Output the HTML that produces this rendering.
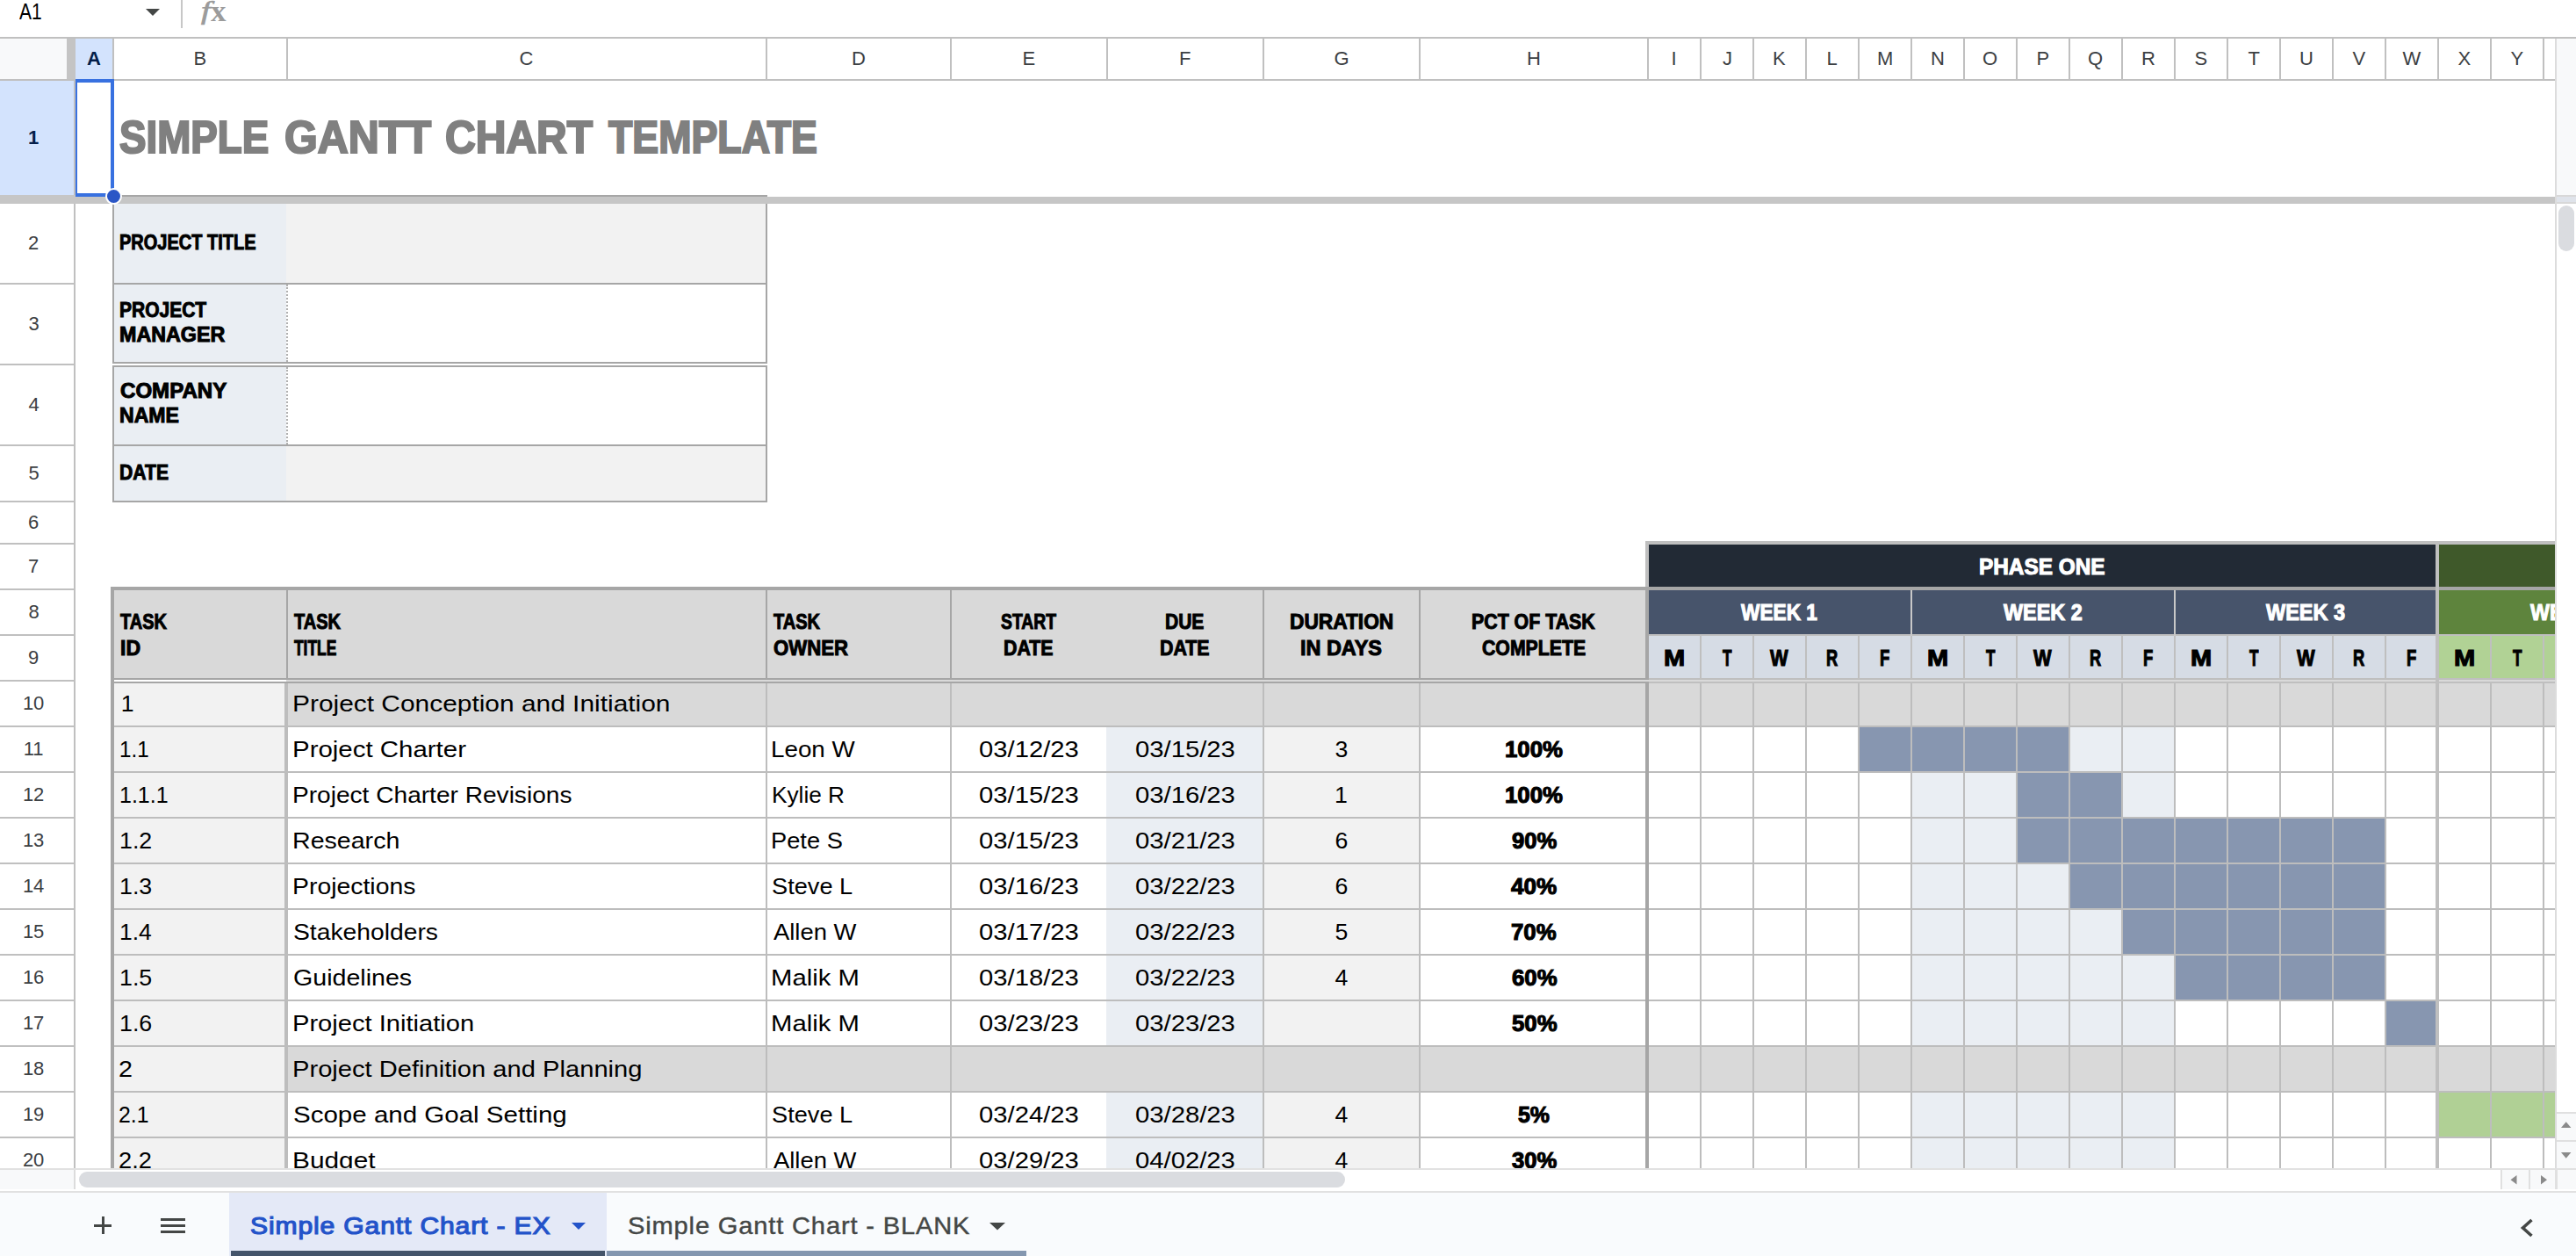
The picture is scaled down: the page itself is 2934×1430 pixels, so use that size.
<!DOCTYPE html><html><head><meta charset='utf-8'><title>Simple Gantt Chart Template</title><style>
html,body{margin:0;padding:0;background:#fff}body{width:2934px;height:1430px;position:relative;overflow:hidden;font-family:'Liberation Sans',sans-serif}
.r{position:absolute}.t{position:absolute;white-space:pre;line-height:1;transform-origin:0 0}
</style></head><body>
<div class='r' style='left:0px;top:0px;width:2934px;height:42px;background:#fff;'></div>
<div class='r' style='left:0px;top:42px;width:2934px;height:2px;background:#c0c0c0;'></div>
<div class='r' style='left:206px;top:0px;width:2px;height:32px;background:#c7c7c7;'></div>
<div class='r' style='left:0px;top:44px;width:76px;height:46px;background:#f8f9fa;'></div>
<div class='r' style='left:76px;top:44px;width:10px;height:46px;background:#c4c4c4;'></div>
<div class='r' style='left:86px;top:44px;width:42px;height:46px;background:#d3e3fd;'></div>
<div class='r' style='left:0px;top:90px;width:2910px;height:2px;background:#c0c0c0;'></div>
<div class='r' style='left:128px;top:44px;width:2px;height:46px;background:#c0c0c0;'></div>
<div class='r' style='left:326px;top:44px;width:2px;height:46px;background:#c0c0c0;'></div>
<div class='r' style='left:872px;top:44px;width:2px;height:46px;background:#c0c0c0;'></div>
<div class='r' style='left:1082px;top:44px;width:2px;height:46px;background:#c0c0c0;'></div>
<div class='r' style='left:1260px;top:44px;width:2px;height:46px;background:#c0c0c0;'></div>
<div class='r' style='left:1438px;top:44px;width:2px;height:46px;background:#c0c0c0;'></div>
<div class='r' style='left:1616px;top:44px;width:2px;height:46px;background:#c0c0c0;'></div>
<div class='r' style='left:1876px;top:44px;width:2px;height:46px;background:#c0c0c0;'></div>
<div class='r' style='left:1936px;top:44px;width:2px;height:46px;background:#c0c0c0;'></div>
<div class='r' style='left:1996px;top:44px;width:2px;height:46px;background:#c0c0c0;'></div>
<div class='r' style='left:2056px;top:44px;width:2px;height:46px;background:#c0c0c0;'></div>
<div class='r' style='left:2116px;top:44px;width:2px;height:46px;background:#c0c0c0;'></div>
<div class='r' style='left:2176px;top:44px;width:2px;height:46px;background:#c0c0c0;'></div>
<div class='r' style='left:2236px;top:44px;width:2px;height:46px;background:#c0c0c0;'></div>
<div class='r' style='left:2296px;top:44px;width:2px;height:46px;background:#c0c0c0;'></div>
<div class='r' style='left:2356px;top:44px;width:2px;height:46px;background:#c0c0c0;'></div>
<div class='r' style='left:2416px;top:44px;width:2px;height:46px;background:#c0c0c0;'></div>
<div class='r' style='left:2476px;top:44px;width:2px;height:46px;background:#c0c0c0;'></div>
<div class='r' style='left:2536px;top:44px;width:2px;height:46px;background:#c0c0c0;'></div>
<div class='r' style='left:2596px;top:44px;width:2px;height:46px;background:#c0c0c0;'></div>
<div class='r' style='left:2656px;top:44px;width:2px;height:46px;background:#c0c0c0;'></div>
<div class='r' style='left:2716px;top:44px;width:2px;height:46px;background:#c0c0c0;'></div>
<div class='r' style='left:2776px;top:44px;width:2px;height:46px;background:#c0c0c0;'></div>
<div class='r' style='left:2836px;top:44px;width:2px;height:46px;background:#c0c0c0;'></div>
<div class='r' style='left:2896px;top:44px;width:2px;height:46px;background:#c0c0c0;'></div>
<div class='r' style='left:0px;top:92px;width:84px;height:130px;background:#d3e3fd;'></div>
<div class='r' style='left:84px;top:92px;width:2px;height:1238px;background:#c0c0c0;'></div>
<div class='r' style='left:0px;top:322px;width:84px;height:2px;background:#c0c0c0;'></div>
<div class='r' style='left:0px;top:414px;width:84px;height:2px;background:#c0c0c0;'></div>
<div class='r' style='left:0px;top:506px;width:84px;height:2px;background:#c0c0c0;'></div>
<div class='r' style='left:0px;top:570px;width:84px;height:2px;background:#c0c0c0;'></div>
<div class='r' style='left:0px;top:618px;width:84px;height:2px;background:#c0c0c0;'></div>
<div class='r' style='left:0px;top:670px;width:84px;height:2px;background:#c0c0c0;'></div>
<div class='r' style='left:0px;top:722px;width:84px;height:2px;background:#c0c0c0;'></div>
<div class='r' style='left:0px;top:774px;width:84px;height:2px;background:#c0c0c0;'></div>
<div class='r' style='left:0px;top:826px;width:84px;height:2px;background:#c0c0c0;'></div>
<div class='r' style='left:0px;top:878px;width:84px;height:2px;background:#c0c0c0;'></div>
<div class='r' style='left:0px;top:930px;width:84px;height:2px;background:#c0c0c0;'></div>
<div class='r' style='left:0px;top:982px;width:84px;height:2px;background:#c0c0c0;'></div>
<div class='r' style='left:0px;top:1034px;width:84px;height:2px;background:#c0c0c0;'></div>
<div class='r' style='left:0px;top:1086px;width:84px;height:2px;background:#c0c0c0;'></div>
<div class='r' style='left:0px;top:1138px;width:84px;height:2px;background:#c0c0c0;'></div>
<div class='r' style='left:0px;top:1190px;width:84px;height:2px;background:#c0c0c0;'></div>
<div class='r' style='left:0px;top:1242px;width:84px;height:2px;background:#c0c0c0;'></div>
<div class='r' style='left:0px;top:1294px;width:84px;height:2px;background:#c0c0c0;'></div>
<div class='r' style='left:130px;top:232px;width:196px;height:90px;background:#eaeef3;'></div>
<div class='r' style='left:326px;top:232px;width:546px;height:90px;background:#f2f2f2;'></div>
<div class='r' style='left:130px;top:324px;width:196px;height:88px;background:#eaeef3;'></div>
<div class='r' style='left:130px;top:418px;width:196px;height:88px;background:#eaeef3;'></div>
<div class='r' style='left:130px;top:508px;width:196px;height:62px;background:#eaeef3;'></div>
<div class='r' style='left:326px;top:508px;width:546px;height:62px;background:#f2f2f2;'></div>
<div class='r' style='left:128px;top:222px;width:746px;height:2px;background:#a6a6a6;'></div>
<div class='r' style='left:128px;top:222px;width:2px;height:350px;background:#a6a6a6;'></div>
<div class='r' style='left:872px;top:222px;width:2px;height:350px;background:#a6a6a6;'></div>
<div class='r' style='left:128px;top:322px;width:746px;height:2px;background:#a6a6a6;'></div>
<div class='r' style='left:128px;top:412px;width:746px;height:2px;background:#a6a6a6;'></div>
<div class='r' style='left:128px;top:414px;width:746px;height:2px;background:#fff;'></div>
<div class='r' style='left:128px;top:416px;width:746px;height:2px;background:#a6a6a6;'></div>
<div class='r' style='left:128px;top:506px;width:746px;height:2px;background:#a6a6a6;'></div>
<div class='r' style='left:128px;top:570px;width:746px;height:2px;background:#a6a6a6;'></div>
<div class='r' style='left:0px;top:222px;width:86px;height:10px;background:#c6c6c6;'></div>
<div class='r' style='left:86px;top:224px;width:2824px;height:8px;background:#c6c6c6;'></div>
<div class='r' style='left:130px;top:672px;width:1746px;height:100px;background:#d9d9d9;'></div>
<div class='r' style='left:1878px;top:620px;width:896px;height:48px;background:#222a35;'></div>
<div class='r' style='left:2778px;top:620px;width:132px;height:48px;background:#3f592a;'></div>
<div class='r' style='left:1878px;top:672px;width:896px;height:50px;background:#47546b;'></div>
<div class='r' style='left:2778px;top:672px;width:132px;height:50px;background:#5e843d;'></div>
<div class='r' style='left:1878px;top:724px;width:896px;height:48px;background:#d6dce5;'></div>
<div class='r' style='left:2778px;top:724px;width:132px;height:48px;background:#b1d295;'></div>
<div class='r' style='left:1874px;top:616px;width:1036px;height:4px;background:#bfbfbf;'></div>
<div class='r' style='left:1874px;top:616px;width:4px;height:52px;background:#bfbfbf;'></div>
<div class='r' style='left:2774px;top:616px;width:4px;height:714px;background:#bfbfbf;'></div>
<div class='r' style='left:1874px;top:668px;width:1036px;height:4px;background:#a6a6a6;'></div>
<div class='r' style='left:1878px;top:722px;width:1032px;height:2px;background:#bfbfbf;'></div>
<div class='r' style='left:2176px;top:672px;width:2px;height:52px;background:#c8c8c8;'></div>
<div class='r' style='left:2476px;top:672px;width:2px;height:52px;background:#c8c8c8;'></div>
<div class='r' style='left:1936px;top:724px;width:2px;height:48px;background:#bfbfbf;'></div>
<div class='r' style='left:1996px;top:724px;width:2px;height:48px;background:#bfbfbf;'></div>
<div class='r' style='left:2056px;top:724px;width:2px;height:48px;background:#bfbfbf;'></div>
<div class='r' style='left:2116px;top:724px;width:2px;height:48px;background:#bfbfbf;'></div>
<div class='r' style='left:2176px;top:724px;width:2px;height:48px;background:#bfbfbf;'></div>
<div class='r' style='left:2236px;top:724px;width:2px;height:48px;background:#bfbfbf;'></div>
<div class='r' style='left:2296px;top:724px;width:2px;height:48px;background:#bfbfbf;'></div>
<div class='r' style='left:2356px;top:724px;width:2px;height:48px;background:#bfbfbf;'></div>
<div class='r' style='left:2416px;top:724px;width:2px;height:48px;background:#bfbfbf;'></div>
<div class='r' style='left:2476px;top:724px;width:2px;height:48px;background:#bfbfbf;'></div>
<div class='r' style='left:2536px;top:724px;width:2px;height:48px;background:#bfbfbf;'></div>
<div class='r' style='left:2596px;top:724px;width:2px;height:48px;background:#bfbfbf;'></div>
<div class='r' style='left:2656px;top:724px;width:2px;height:48px;background:#bfbfbf;'></div>
<div class='r' style='left:2716px;top:724px;width:2px;height:48px;background:#bfbfbf;'></div>
<div class='r' style='left:2836px;top:724px;width:2px;height:48px;background:#bfbfbf;'></div>
<div class='r' style='left:2896px;top:724px;width:2px;height:48px;background:#bfbfbf;'></div>
<div class='r' style='left:130px;top:776px;width:196px;height:50px;background:#f2f2f2;'></div>
<div class='r' style='left:326px;top:776px;width:2584px;height:50px;background:#d9d9d9;'></div>
<div class='r' style='left:130px;top:828px;width:196px;height:50px;background:#f2f2f2;'></div>
<div class='r' style='left:1260px;top:828px;width:178px;height:50px;background:#eaeef3;'></div>
<div class='r' style='left:1440px;top:828px;width:176px;height:50px;background:#f2f2f2;'></div>
<div class='r' style='left:2176px;top:828px;width:300px;height:50px;background:#eaeef3;'></div>
<div class='r' style='left:2116px;top:828px;width:60px;height:50px;background:#8796b0;'></div>
<div class='r' style='left:2176px;top:828px;width:60px;height:50px;background:#8796b0;'></div>
<div class='r' style='left:2236px;top:828px;width:60px;height:50px;background:#8796b0;'></div>
<div class='r' style='left:2296px;top:828px;width:60px;height:50px;background:#8796b0;'></div>
<div class='r' style='left:130px;top:880px;width:196px;height:50px;background:#f2f2f2;'></div>
<div class='r' style='left:1260px;top:880px;width:178px;height:50px;background:#eaeef3;'></div>
<div class='r' style='left:1440px;top:880px;width:176px;height:50px;background:#f2f2f2;'></div>
<div class='r' style='left:2176px;top:880px;width:300px;height:50px;background:#eaeef3;'></div>
<div class='r' style='left:2296px;top:880px;width:60px;height:50px;background:#8796b0;'></div>
<div class='r' style='left:2356px;top:880px;width:60px;height:50px;background:#8796b0;'></div>
<div class='r' style='left:130px;top:932px;width:196px;height:50px;background:#f2f2f2;'></div>
<div class='r' style='left:1260px;top:932px;width:178px;height:50px;background:#eaeef3;'></div>
<div class='r' style='left:1440px;top:932px;width:176px;height:50px;background:#f2f2f2;'></div>
<div class='r' style='left:2176px;top:932px;width:300px;height:50px;background:#eaeef3;'></div>
<div class='r' style='left:2296px;top:932px;width:60px;height:50px;background:#8796b0;'></div>
<div class='r' style='left:2356px;top:932px;width:60px;height:50px;background:#8796b0;'></div>
<div class='r' style='left:2416px;top:932px;width:60px;height:50px;background:#8796b0;'></div>
<div class='r' style='left:2476px;top:932px;width:60px;height:50px;background:#8796b0;'></div>
<div class='r' style='left:2536px;top:932px;width:60px;height:50px;background:#8796b0;'></div>
<div class='r' style='left:2596px;top:932px;width:60px;height:50px;background:#8796b0;'></div>
<div class='r' style='left:2656px;top:932px;width:60px;height:50px;background:#8796b0;'></div>
<div class='r' style='left:130px;top:984px;width:196px;height:50px;background:#f2f2f2;'></div>
<div class='r' style='left:1260px;top:984px;width:178px;height:50px;background:#eaeef3;'></div>
<div class='r' style='left:1440px;top:984px;width:176px;height:50px;background:#f2f2f2;'></div>
<div class='r' style='left:2176px;top:984px;width:300px;height:50px;background:#eaeef3;'></div>
<div class='r' style='left:2356px;top:984px;width:60px;height:50px;background:#8796b0;'></div>
<div class='r' style='left:2416px;top:984px;width:60px;height:50px;background:#8796b0;'></div>
<div class='r' style='left:2476px;top:984px;width:60px;height:50px;background:#8796b0;'></div>
<div class='r' style='left:2536px;top:984px;width:60px;height:50px;background:#8796b0;'></div>
<div class='r' style='left:2596px;top:984px;width:60px;height:50px;background:#8796b0;'></div>
<div class='r' style='left:2656px;top:984px;width:60px;height:50px;background:#8796b0;'></div>
<div class='r' style='left:130px;top:1036px;width:196px;height:50px;background:#f2f2f2;'></div>
<div class='r' style='left:1260px;top:1036px;width:178px;height:50px;background:#eaeef3;'></div>
<div class='r' style='left:1440px;top:1036px;width:176px;height:50px;background:#f2f2f2;'></div>
<div class='r' style='left:2176px;top:1036px;width:300px;height:50px;background:#eaeef3;'></div>
<div class='r' style='left:2416px;top:1036px;width:60px;height:50px;background:#8796b0;'></div>
<div class='r' style='left:2476px;top:1036px;width:60px;height:50px;background:#8796b0;'></div>
<div class='r' style='left:2536px;top:1036px;width:60px;height:50px;background:#8796b0;'></div>
<div class='r' style='left:2596px;top:1036px;width:60px;height:50px;background:#8796b0;'></div>
<div class='r' style='left:2656px;top:1036px;width:60px;height:50px;background:#8796b0;'></div>
<div class='r' style='left:130px;top:1088px;width:196px;height:50px;background:#f2f2f2;'></div>
<div class='r' style='left:1260px;top:1088px;width:178px;height:50px;background:#eaeef3;'></div>
<div class='r' style='left:1440px;top:1088px;width:176px;height:50px;background:#f2f2f2;'></div>
<div class='r' style='left:2176px;top:1088px;width:300px;height:50px;background:#eaeef3;'></div>
<div class='r' style='left:2476px;top:1088px;width:60px;height:50px;background:#8796b0;'></div>
<div class='r' style='left:2536px;top:1088px;width:60px;height:50px;background:#8796b0;'></div>
<div class='r' style='left:2596px;top:1088px;width:60px;height:50px;background:#8796b0;'></div>
<div class='r' style='left:2656px;top:1088px;width:60px;height:50px;background:#8796b0;'></div>
<div class='r' style='left:130px;top:1140px;width:196px;height:50px;background:#f2f2f2;'></div>
<div class='r' style='left:1260px;top:1140px;width:178px;height:50px;background:#eaeef3;'></div>
<div class='r' style='left:1440px;top:1140px;width:176px;height:50px;background:#f2f2f2;'></div>
<div class='r' style='left:2176px;top:1140px;width:300px;height:50px;background:#eaeef3;'></div>
<div class='r' style='left:2716px;top:1140px;width:60px;height:50px;background:#8796b0;'></div>
<div class='r' style='left:130px;top:1192px;width:196px;height:50px;background:#f2f2f2;'></div>
<div class='r' style='left:326px;top:1192px;width:2584px;height:50px;background:#d9d9d9;'></div>
<div class='r' style='left:130px;top:1244px;width:196px;height:50px;background:#f2f2f2;'></div>
<div class='r' style='left:1260px;top:1244px;width:178px;height:50px;background:#eaeef3;'></div>
<div class='r' style='left:1440px;top:1244px;width:176px;height:50px;background:#f2f2f2;'></div>
<div class='r' style='left:2176px;top:1244px;width:300px;height:50px;background:#eaeef3;'></div>
<div class='r' style='left:2776px;top:1244px;width:60px;height:50px;background:#b0d095;'></div>
<div class='r' style='left:2836px;top:1244px;width:60px;height:50px;background:#b0d095;'></div>
<div class='r' style='left:2896px;top:1244px;width:14px;height:50px;background:#b0d095;'></div>
<div class='r' style='left:130px;top:1296px;width:196px;height:34px;background:#f2f2f2;'></div>
<div class='r' style='left:1260px;top:1296px;width:178px;height:34px;background:#eaeef3;'></div>
<div class='r' style='left:1440px;top:1296px;width:176px;height:34px;background:#f2f2f2;'></div>
<div class='r' style='left:2176px;top:1296px;width:300px;height:34px;background:#eaeef3;'></div>
<div class='r' style='left:126px;top:826px;width:2784px;height:2px;background:#bdbdbd;'></div>
<div class='r' style='left:126px;top:878px;width:2784px;height:2px;background:#bdbdbd;'></div>
<div class='r' style='left:126px;top:930px;width:2784px;height:2px;background:#bdbdbd;'></div>
<div class='r' style='left:126px;top:982px;width:2784px;height:2px;background:#bdbdbd;'></div>
<div class='r' style='left:126px;top:1034px;width:2784px;height:2px;background:#bdbdbd;'></div>
<div class='r' style='left:126px;top:1086px;width:2784px;height:2px;background:#bdbdbd;'></div>
<div class='r' style='left:126px;top:1138px;width:2784px;height:2px;background:#bdbdbd;'></div>
<div class='r' style='left:126px;top:1190px;width:2784px;height:2px;background:#bdbdbd;'></div>
<div class='r' style='left:126px;top:1242px;width:2784px;height:2px;background:#bdbdbd;'></div>
<div class='r' style='left:126px;top:1294px;width:2784px;height:2px;background:#bdbdbd;'></div>
<div class='r' style='left:324px;top:778px;width:4px;height:552px;background:#bdbdbd;'></div>
<div class='r' style='left:872px;top:778px;width:2px;height:552px;background:#bdbdbd;'></div>
<div class='r' style='left:1082px;top:778px;width:2px;height:552px;background:#bdbdbd;'></div>
<div class='r' style='left:1438px;top:778px;width:2px;height:552px;background:#bdbdbd;'></div>
<div class='r' style='left:1616px;top:778px;width:2px;height:552px;background:#bdbdbd;'></div>
<div class='r' style='left:1936px;top:778px;width:2px;height:552px;background:#bdbdbd;'></div>
<div class='r' style='left:1996px;top:778px;width:2px;height:552px;background:#bdbdbd;'></div>
<div class='r' style='left:2056px;top:778px;width:2px;height:552px;background:#bdbdbd;'></div>
<div class='r' style='left:2116px;top:778px;width:2px;height:552px;background:#bdbdbd;'></div>
<div class='r' style='left:2176px;top:778px;width:2px;height:552px;background:#bdbdbd;'></div>
<div class='r' style='left:2236px;top:778px;width:2px;height:552px;background:#bdbdbd;'></div>
<div class='r' style='left:2296px;top:778px;width:2px;height:552px;background:#bdbdbd;'></div>
<div class='r' style='left:2356px;top:778px;width:2px;height:552px;background:#bdbdbd;'></div>
<div class='r' style='left:2416px;top:778px;width:2px;height:552px;background:#bdbdbd;'></div>
<div class='r' style='left:2476px;top:778px;width:2px;height:552px;background:#bdbdbd;'></div>
<div class='r' style='left:2536px;top:778px;width:2px;height:552px;background:#bdbdbd;'></div>
<div class='r' style='left:2596px;top:778px;width:2px;height:552px;background:#bdbdbd;'></div>
<div class='r' style='left:2656px;top:778px;width:2px;height:552px;background:#bdbdbd;'></div>
<div class='r' style='left:2716px;top:778px;width:2px;height:552px;background:#bdbdbd;'></div>
<div class='r' style='left:2836px;top:778px;width:2px;height:552px;background:#bdbdbd;'></div>
<div class='r' style='left:2896px;top:778px;width:2px;height:552px;background:#bdbdbd;'></div>
<div class='r' style='left:326px;top:672px;width:2px;height:100px;background:#a6a6a6;'></div>
<div class='r' style='left:872px;top:672px;width:2px;height:100px;background:#a6a6a6;'></div>
<div class='r' style='left:1082px;top:672px;width:2px;height:100px;background:#a6a6a6;'></div>
<div class='r' style='left:1438px;top:672px;width:2px;height:100px;background:#a6a6a6;'></div>
<div class='r' style='left:1616px;top:672px;width:2px;height:100px;background:#a6a6a6;'></div>
<div class='r' style='left:126px;top:668px;width:1752px;height:4px;background:#a6a6a6;'></div>
<div class='r' style='left:126px;top:668px;width:4px;height:662px;background:#a6a6a6;'></div>
<div class='r' style='left:1874px;top:668px;width:4px;height:662px;background:#a6a6a6;'></div>
<div class='r' style='left:126px;top:772px;width:1752px;height:2px;background:#a6a6a6;'></div>
<div class='r' style='left:1878px;top:772px;width:1032px;height:2px;background:#bfbfbf;'></div>
<div class='r' style='left:130px;top:774px;width:196px;height:2px;background:#fff;'></div>
<div class='r' style='left:326px;top:774px;width:2584px;height:2px;background:#d9d9d9;'></div>
<div class='r' style='left:126px;top:776px;width:1752px;height:2px;background:#a6a6a6;'></div>
<div class='r' style='left:1878px;top:776px;width:1032px;height:2px;background:#bfbfbf;'></div>
<div class='r' style='left:2774px;top:616px;width:4px;height:714px;background:#bfbfbf;'></div>
<div class='r' style='left:2910px;top:44px;width:2px;height:1286px;background:#dcdcdc;'></div>
<div class='r' style='left:2912px;top:44px;width:22px;height:178px;background:#f8f9fa;'></div>
<div class='r' style='left:2912px;top:222px;width:22px;height:2px;background:#d8d8d8;'></div>
<div class='r' style='left:2912px;top:224px;width:22px;height:6px;background:#dfe3ea;'></div>
<div class='r' style='left:2912px;top:230px;width:22px;height:2px;background:#d8d8d8;'></div>
<div class='r' style='left:2912px;top:1266px;width:22px;height:2px;background:#e0e0e0;'></div>
<div class='r' style='left:2912px;top:1268px;width:22px;height:30px;background:#f8f9fa;'></div>
<div class='r' style='left:2912px;top:1298px;width:22px;height:2px;background:#e0e0e0;'></div>
<div class='r' style='left:2912px;top:1300px;width:22px;height:30px;background:#f8f9fa;'></div>
<div class='r' style='left:0px;top:1330px;width:2934px;height:2px;background:#e1e1e1;'></div>
<div class='r' style='left:0px;top:1332px;width:2934px;height:24px;background:#fff;'></div>
<div class='r' style='left:0px;top:1332px;width:84px;height:22px;background:#f8f9fa;'></div>
<div class='r' style='left:84px;top:1332px;width:2px;height:22px;background:#dcdcdc;'></div>
<div class='r' style='left:2848px;top:1332px;width:2px;height:22px;background:#e0e0e0;'></div>
<div class='r' style='left:2850px;top:1332px;width:30px;height:22px;background:#f8f9fa;'></div>
<div class='r' style='left:2880px;top:1332px;width:2px;height:22px;background:#e0e0e0;'></div>
<div class='r' style='left:2882px;top:1332px;width:28px;height:22px;background:#f8f9fa;'></div>
<div class='r' style='left:2910px;top:1332px;width:3px;height:22px;background:#e0e0e0;'></div>
<div class='r' style='left:2913px;top:1332px;width:21px;height:22px;background:#f8f9fa;'></div>
<div class='r' style='left:0px;top:1356px;width:2934px;height:2px;background:#e1e1e1;'></div>
<div class='r' style='left:0px;top:1358px;width:2934px;height:72px;background:#f9fbfd;'></div>
<div class='r' style='left:261px;top:1358px;width:430px;height:72px;background:#e4e9f7;'></div>
<div class='r' style='left:263px;top:1424px;width:426px;height:6px;background:#44546a;'></div>
<div class='r' style='left:691px;top:1424px;width:478px;height:6px;background:#8497b0;'></div>
<div class='r' style='left:107px;top:1393.8px;width:20px;height:3px;background:#444746;'></div>
<div class='r' style='left:115.5px;top:1385.3px;width:3px;height:20px;background:#444746;'></div>
<div class='r' style='left:183px;top:1386.5px;width:28px;height:3px;background:#444746;'></div>
<div class='r' style='left:183px;top:1393.7px;width:28px;height:3px;background:#444746;'></div>
<div class='r' style='left:183px;top:1401px;width:28px;height:3px;background:#444746;'></div>
<svg style="position:absolute;left:166px;top:10px" width="16" height="8"><path d="M0 0H16L8 8Z" fill="#444746"/></svg>
<div style="position:absolute;left:326px;top:324px;width:0;height:88px;border-left:2px dotted #b0b0b0"></div>
<div style="position:absolute;left:326px;top:418px;width:0;height:88px;border-left:2px dotted #b0b0b0"></div>
<div style="position:absolute;left:2914px;top:234px;width:18px;height:52px;border-radius:9px;background:#dadce0"></div>
<svg style="position:absolute;left:2917px;top:1277px" width="12" height="8"><path d="M0 7H11.4L5.7 0.3Z" fill="#8a8a8a"/></svg>
<svg style="position:absolute;left:2917px;top:1311px" width="12" height="8"><path d="M0 1H11.4L5.7 7.7Z" fill="#8a8a8a"/></svg>
<div style="position:absolute;left:90px;top:1334px;width:1442px;height:18px;border-radius:9px;background:#dadce0"></div>
<svg style="position:absolute;left:2859px;top:1338px" width="8" height="11"><path d="M7.5 0V10.4L0.5 5.2Z" fill="#8a8a8a"/></svg>
<svg style="position:absolute;left:2894px;top:1338px" width="8" height="11"><path d="M0 0V10.4L7 5.2Z" fill="#8a8a8a"/></svg>
<svg style="position:absolute;left:651px;top:1392px" width="16" height="9"><path d="M0 0H16L8 8Z" fill="#2353c9"/></svg>
<svg style="position:absolute;left:1127px;top:1392px" width="18" height="9"><path d="M0 0H18L9 8.5Z" fill="#444746"/></svg>
<svg style="position:absolute;left:2869px;top:1386px" width="20" height="24" viewBox="0 0 20 24"><path d="M14.5 3L4.5 12L14.5 21" fill="none" stroke="#444746" stroke-width="3.6"/></svg>
<span class='t' style="left:22.4px;top:0.5px;font-size:25.4px;color:#000;transform:scaleX(0.8251);">A1</span>
<span class='t' style="left:229.47px;top:-2.29px;font-size:29px;color:#9b9b9b;font-family:'Liberation Serif',serif;transform:scaleX(1.3386);font-style:italic;-webkit-text-stroke:0.7px #9b9b9b;">f</span>
<span class='t' style="left:239.5px;top:-3.68px;font-size:34px;color:#9b9b9b;font-weight:700;font-family:'Liberation Serif',serif;transform:scaleX(1.0294);">x</span>
<span class='t' style="left:99px;top:55.98px;font-size:22px;color:#041e49;font-weight:700;">A</span>
<span class='t' style="left:220.5px;top:55.98px;font-size:22px;color:#3c4043;">B</span>
<span class='t' style="left:591.5px;top:55.98px;font-size:22px;color:#3c4043;">C</span>
<span class='t' style="left:970px;top:55.98px;font-size:22px;color:#3c4043;">D</span>
<span class='t' style="left:1164.5px;top:55.98px;font-size:22px;color:#3c4043;">E</span>
<span class='t' style="left:1343px;top:55.98px;font-size:22px;color:#3c4043;">F</span>
<span class='t' style="left:1519.5px;top:55.98px;font-size:22px;color:#3c4043;">G</span>
<span class='t' style="left:1739px;top:55.98px;font-size:22px;color:#3c4043;">H</span>
<span class='t' style="left:1903.5px;top:55.98px;font-size:22px;color:#3c4043;">I</span>
<span class='t' style="left:1962px;top:55.98px;font-size:22px;color:#3c4043;">J</span>
<span class='t' style="left:2019px;top:55.98px;font-size:22px;color:#3c4043;">K</span>
<span class='t' style="left:2080.5px;top:55.98px;font-size:22px;color:#3c4043;">L</span>
<span class='t' style="left:2138px;top:55.98px;font-size:22px;color:#3c4043;">M</span>
<span class='t' style="left:2199px;top:55.98px;font-size:22px;color:#3c4043;">N</span>
<span class='t' style="left:2258px;top:55.98px;font-size:22px;color:#3c4043;">O</span>
<span class='t' style="left:2319.5px;top:55.98px;font-size:22px;color:#3c4043;">P</span>
<span class='t' style="left:2378px;top:55.98px;font-size:22px;color:#3c4043;">Q</span>
<span class='t' style="left:2439px;top:55.98px;font-size:22px;color:#3c4043;">R</span>
<span class='t' style="left:2499.5px;top:55.98px;font-size:22px;color:#3c4043;">S</span>
<span class='t' style="left:2560.5px;top:55.98px;font-size:22px;color:#3c4043;">T</span>
<span class='t' style="left:2619px;top:55.98px;font-size:22px;color:#3c4043;">U</span>
<span class='t' style="left:2679.5px;top:55.98px;font-size:22px;color:#3c4043;">V</span>
<span class='t' style="left:2736.5px;top:55.98px;font-size:22px;color:#3c4043;">W</span>
<span class='t' style="left:2799.5px;top:55.98px;font-size:22px;color:#3c4043;">X</span>
<span class='t' style="left:2859.5px;top:55.98px;font-size:22px;color:#3c4043;">Y</span>
<span class='t' style="left:285.17px;top:1382.2px;font-size:28px;color:#2353c9;transform:scaleX(1.0743);letter-spacing:0.8px;-webkit-text-stroke:1.2px #2353c9;">Simple Gantt Chart - EX</span>
<span class='t' style="left:715.47px;top:1382.2px;font-size:28px;color:#444746;transform:scaleX(1.0389);letter-spacing:0.8px;-webkit-text-stroke:0.4px #444746;">Simple Gantt Chart - BLANK</span>
<div class='r' style='left:0;top:0;width:2910px;height:1330px;overflow:hidden'><span class='t' style="left:32px;top:146.38px;font-size:22px;color:#041e49;font-weight:700;">1</span>
<span class='t' style="left:32px;top:266.38px;font-size:22px;color:#3c4043;">2</span>
<span class='t' style="left:32.5px;top:358.38px;font-size:22px;color:#3c4043;">3</span>
<span class='t' style="left:32.5px;top:450.38px;font-size:22px;color:#3c4043;">4</span>
<span class='t' style="left:32.5px;top:528.38px;font-size:22px;color:#3c4043;">5</span>
<span class='t' style="left:32px;top:584.38px;font-size:22px;color:#3c4043;">6</span>
<span class='t' style="left:32px;top:634.38px;font-size:22px;color:#3c4043;">7</span>
<span class='t' style="left:32.5px;top:686.38px;font-size:22px;color:#3c4043;">8</span>
<span class='t' style="left:32px;top:738.38px;font-size:22px;color:#3c4043;">9</span>
<span class='t' style="left:25.88px;top:790.38px;font-size:22px;color:#3c4043;">10</span>
<span class='t' style="left:26.7px;top:842.38px;font-size:22px;color:#3c4043;">11</span>
<span class='t' style="left:25.88px;top:894.38px;font-size:22px;color:#3c4043;">12</span>
<span class='t' style="left:25.88px;top:946.38px;font-size:22px;color:#3c4043;">13</span>
<span class='t' style="left:25.88px;top:998.38px;font-size:22px;color:#3c4043;">14</span>
<span class='t' style="left:25.88px;top:1050.38px;font-size:22px;color:#3c4043;">15</span>
<span class='t' style="left:25.88px;top:1102.38px;font-size:22px;color:#3c4043;">16</span>
<span class='t' style="left:25.88px;top:1154.38px;font-size:22px;color:#3c4043;">17</span>
<span class='t' style="left:25.88px;top:1206.38px;font-size:22px;color:#3c4043;">18</span>
<span class='t' style="left:25.88px;top:1258.38px;font-size:22px;color:#3c4043;">19</span>
<span class='t' style="left:25.88px;top:1310.38px;font-size:22px;color:#3c4043;">20</span>
<span class='t' style="left:136.39px;top:131.37px;font-size:51.3px;color:#808080;font-weight:700;transform:scaleX(0.8914);-webkit-text-stroke:2.2px #808080;">SIMPLE</span>
<span class='t' style="left:323.95px;top:131.37px;font-size:51.3px;color:#808080;font-weight:700;transform:scaleX(0.9455);-webkit-text-stroke:2.2px #808080;">GANTT</span>
<span class='t' style="left:507.16px;top:131.37px;font-size:51.3px;color:#808080;font-weight:700;transform:scaleX(0.9366);-webkit-text-stroke:2.2px #808080;">CHART</span>
<span class='t' style="left:693.26px;top:131.37px;font-size:51.3px;color:#808080;font-weight:700;transform:scaleX(0.8724);-webkit-text-stroke:2.2px #808080;">TEMPLATE</span>
<span class='t' style="left:135.89px;top:263.68px;font-size:24px;color:#000;font-weight:700;transform:scaleX(0.8330);-webkit-text-stroke:1.01px #000;">PROJECT TITLE</span>
<span class='t' style="left:135.87px;top:341.48px;font-size:24px;color:#000;font-weight:700;transform:scaleX(0.8751);-webkit-text-stroke:1.01px #000;">PROJECT</span>
<span class='t' style="left:135.82px;top:369.48px;font-size:24px;color:#000;font-weight:700;transform:scaleX(0.9703);-webkit-text-stroke:1.01px #000;">MANAGER</span>
<span class='t' style="left:136.81px;top:433.18px;font-size:24px;color:#000;font-weight:700;transform:scaleX(1.0033);-webkit-text-stroke:1.01px #000;">COMPANY</span>
<span class='t' style="left:135.82px;top:461.18px;font-size:24px;color:#000;font-weight:700;transform:scaleX(0.9623);-webkit-text-stroke:1.01px #000;">NAME</span>
<span class='t' style="left:135.86px;top:525.68px;font-size:24px;color:#000;font-weight:700;transform:scaleX(0.8812);-webkit-text-stroke:1.01px #000;">DATE</span>
<span class='t' style="left:137.42px;top:695.88px;font-size:24px;color:#000;font-weight:700;transform:scaleX(0.8340);-webkit-text-stroke:1.01px #000;">TASK</span>
<span class='t' style="left:136.53px;top:725.88px;font-size:24px;color:#000;font-weight:700;transform:scaleX(0.9587);-webkit-text-stroke:1.01px #000;">ID</span>
<span class='t' style="left:335.42px;top:695.88px;font-size:24px;color:#000;font-weight:700;transform:scaleX(0.8340);-webkit-text-stroke:1.01px #000;">TASK</span>
<span class='t' style="left:335.37px;top:725.88px;font-size:24px;color:#000;font-weight:700;transform:scaleX(0.7242);-webkit-text-stroke:1.01px #000;">TITLE</span>
<span class='t' style="left:880.92px;top:695.88px;font-size:24px;color:#000;font-weight:700;transform:scaleX(0.8340);-webkit-text-stroke:1.01px #000;">TASK</span>
<span class='t' style="left:880.97px;top:725.88px;font-size:24px;color:#000;font-weight:700;transform:scaleX(0.9237);-webkit-text-stroke:1.01px #000;">OWNER</span>
<span class='t' style="left:1140.31px;top:695.88px;font-size:24px;color:#000;font-weight:700;transform:scaleX(0.8069);-webkit-text-stroke:1.01px #000;">START</span>
<span class='t' style="left:1143.31px;top:725.88px;font-size:24px;color:#000;font-weight:700;transform:scaleX(0.8890);-webkit-text-stroke:1.01px #000;">DATE</span>
<span class='t' style="left:1327.37px;top:695.88px;font-size:24px;color:#000;font-weight:700;transform:scaleX(0.8762);-webkit-text-stroke:1.01px #000;">DUE</span>
<span class='t' style="left:1321.31px;top:725.88px;font-size:24px;color:#000;font-weight:700;transform:scaleX(0.8890);-webkit-text-stroke:1.01px #000;">DATE</span>
<span class='t' style="left:1469.03px;top:695.88px;font-size:24px;color:#000;font-weight:700;transform:scaleX(0.9470);-webkit-text-stroke:1.01px #000;">DURATION</span>
<span class='t' style="left:1481.07px;top:725.88px;font-size:24px;color:#000;font-weight:700;transform:scaleX(0.9764);-webkit-text-stroke:1.01px #000;">IN DAYS</span>
<span class='t' style="left:1675.91px;top:695.88px;font-size:24px;color:#000;font-weight:700;transform:scaleX(0.8893);-webkit-text-stroke:1.01px #000;">PCT OF TASK</span>
<span class='t' style="left:1687.95px;top:725.88px;font-size:24px;color:#000;font-weight:700;transform:scaleX(0.8858);-webkit-text-stroke:1.01px #000;">COMPLETE</span>
<span class='t' style="left:2254.1px;top:631.82px;font-size:26.67px;color:#fff;font-weight:700;transform:scaleX(0.9146);-webkit-text-stroke:1.12px #fff;">PHASE ONE</span>
<span class='t' style="left:1983.48px;top:683.72px;font-size:26.67px;color:#fff;font-weight:700;transform:scaleX(0.8503);-webkit-text-stroke:1.12px #fff;">WEEK 1</span>
<span class='t' style="left:2282.49px;top:683.72px;font-size:26.67px;color:#fff;font-weight:700;transform:scaleX(0.8781);-webkit-text-stroke:1.12px #fff;">WEEK 2</span>
<span class='t' style="left:2581.34px;top:683.72px;font-size:26.67px;color:#fff;font-weight:700;transform:scaleX(0.8810);-webkit-text-stroke:1.12px #fff;">WEEK 3</span>
<span class='t' style="left:2882.34px;top:683.72px;font-size:26.67px;color:#fff;font-weight:700;transform:scaleX(0.8725);-webkit-text-stroke:1.12px #fff;">WEEK 4</span>
<span class='t' style="left:1895.02px;top:735.52px;font-size:26.67px;color:#000;font-weight:700;transform:scaleX(1.0890);-webkit-text-stroke:1.12px #000;">M</span>
<span class='t' style="left:1961.86px;top:735.52px;font-size:26.67px;color:#000;font-weight:700;transform:scaleX(0.6425);-webkit-text-stroke:1.12px #000;">T</span>
<span class='t' style="left:2016.36px;top:735.52px;font-size:26.67px;color:#000;font-weight:700;transform:scaleX(0.8186);-webkit-text-stroke:1.12px #000;">W</span>
<span class='t' style="left:2080.15px;top:735.52px;font-size:26.67px;color:#000;font-weight:700;transform:scaleX(0.6851);-webkit-text-stroke:1.12px #000;">R</span>
<span class='t' style="left:2141.09px;top:735.52px;font-size:26.67px;color:#000;font-weight:700;transform:scaleX(0.6948);-webkit-text-stroke:1.12px #000;">F</span>
<span class='t' style="left:2195.02px;top:735.52px;font-size:26.67px;color:#000;font-weight:700;transform:scaleX(1.0890);-webkit-text-stroke:1.12px #000;">M</span>
<span class='t' style="left:2261.86px;top:735.52px;font-size:26.67px;color:#000;font-weight:700;transform:scaleX(0.6425);-webkit-text-stroke:1.12px #000;">T</span>
<span class='t' style="left:2316.36px;top:735.52px;font-size:26.67px;color:#000;font-weight:700;transform:scaleX(0.8186);-webkit-text-stroke:1.12px #000;">W</span>
<span class='t' style="left:2380.15px;top:735.52px;font-size:26.67px;color:#000;font-weight:700;transform:scaleX(0.6851);-webkit-text-stroke:1.12px #000;">R</span>
<span class='t' style="left:2441.09px;top:735.52px;font-size:26.67px;color:#000;font-weight:700;transform:scaleX(0.6948);-webkit-text-stroke:1.12px #000;">F</span>
<span class='t' style="left:2495.02px;top:735.52px;font-size:26.67px;color:#000;font-weight:700;transform:scaleX(1.0890);-webkit-text-stroke:1.12px #000;">M</span>
<span class='t' style="left:2561.86px;top:735.52px;font-size:26.67px;color:#000;font-weight:700;transform:scaleX(0.6425);-webkit-text-stroke:1.12px #000;">T</span>
<span class='t' style="left:2616.36px;top:735.52px;font-size:26.67px;color:#000;font-weight:700;transform:scaleX(0.8186);-webkit-text-stroke:1.12px #000;">W</span>
<span class='t' style="left:2680.15px;top:735.52px;font-size:26.67px;color:#000;font-weight:700;transform:scaleX(0.6851);-webkit-text-stroke:1.12px #000;">R</span>
<span class='t' style="left:2741.09px;top:735.52px;font-size:26.67px;color:#000;font-weight:700;transform:scaleX(0.6948);-webkit-text-stroke:1.12px #000;">F</span>
<span class='t' style="left:2795.02px;top:735.52px;font-size:26.67px;color:#000;font-weight:700;transform:scaleX(1.0890);-webkit-text-stroke:1.12px #000;">M</span>
<span class='t' style="left:2861.86px;top:735.52px;font-size:26.67px;color:#000;font-weight:700;transform:scaleX(0.6425);-webkit-text-stroke:1.12px #000;">T</span>
<span class='t' style="left:137.8px;top:787.52px;font-size:26.67px;color:#000;">1</span>
<span class='t' style="left:332.56px;top:787.52px;font-size:26.67px;color:#000;transform:scaleX(1.1216);">Project Conception and Initiation</span>
<span class='t' style="left:136.28px;top:839.52px;font-size:26.67px;color:#000;transform:scaleX(0.9085);">1.1</span>
<span class='t' style="left:332.59px;top:839.52px;font-size:26.67px;color:#000;transform:scaleX(1.1044);">Project Charter</span>
<span class='t' style="left:878.42px;top:839.52px;font-size:26.67px;color:#000;transform:scaleX(1.0418);">Leon W</span>
<span class='t' style="left:1115px;top:839.52px;font-size:26.67px;color:#000;transform:scaleX(1.0968);">03/12/23</span>
<span class='t' style="left:1293px;top:839.52px;font-size:26.67px;color:#000;transform:scaleX(1.0968);">03/15/23</span>
<span class='t' style="left:1520.5px;top:839.52px;font-size:26.67px;color:#000;">3</span>
<span class='t' style="left:1713.87px;top:839.52px;font-size:26.67px;color:#000;font-weight:700;transform:scaleX(0.9675);-webkit-text-stroke:1.12px #000;">100%</span>
<span class='t' style="left:136.22px;top:891.52px;font-size:26.67px;color:#000;transform:scaleX(0.9387);">1.1.1</span>
<span class='t' style="left:332.69px;top:891.52px;font-size:26.67px;color:#000;transform:scaleX(1.0537);">Project Charter Revisions</span>
<span class='t' style="left:878.53px;top:891.52px;font-size:26.67px;color:#000;transform:scaleX(0.9832);">Kylie R</span>
<span class='t' style="left:1115px;top:891.52px;font-size:26.67px;color:#000;transform:scaleX(1.0968);">03/15/23</span>
<span class='t' style="left:1293px;top:891.52px;font-size:26.67px;color:#000;transform:scaleX(1.0968);">03/16/23</span>
<span class='t' style="left:1520px;top:891.52px;font-size:26.67px;color:#000;">1</span>
<span class='t' style="left:1713.87px;top:891.52px;font-size:26.67px;color:#000;font-weight:700;transform:scaleX(0.9675);-webkit-text-stroke:1.12px #000;">100%</span>
<span class='t' style="left:136.09px;top:943.52px;font-size:26.67px;color:#000;transform:scaleX(1.0049);">1.2</span>
<span class='t' style="left:332.66px;top:943.52px;font-size:26.67px;color:#000;transform:scaleX(1.0723);">Research</span>
<span class='t' style="left:878.45px;top:943.52px;font-size:26.67px;color:#000;transform:scaleX(1.0228);">Pete S</span>
<span class='t' style="left:1115px;top:943.52px;font-size:26.67px;color:#000;transform:scaleX(1.0968);">03/15/23</span>
<span class='t' style="left:1293px;top:943.52px;font-size:26.67px;color:#000;transform:scaleX(1.0968);">03/21/23</span>
<span class='t' style="left:1520.5px;top:943.52px;font-size:26.67px;color:#000;">6</span>
<span class='t' style="left:1721.69px;top:943.52px;font-size:26.67px;color:#000;font-weight:700;transform:scaleX(0.9615);-webkit-text-stroke:1.12px #000;">90%</span>
<span class='t' style="left:136.09px;top:995.52px;font-size:26.67px;color:#000;transform:scaleX(1.0049);">1.3</span>
<span class='t' style="left:332.67px;top:995.52px;font-size:26.67px;color:#000;transform:scaleX(1.0646);">Projections</span>
<span class='t' style="left:879.48px;top:995.52px;font-size:26.67px;color:#000;transform:scaleX(1.0195);">Steve L</span>
<span class='t' style="left:1115px;top:995.52px;font-size:26.67px;color:#000;transform:scaleX(1.0968);">03/16/23</span>
<span class='t' style="left:1293px;top:995.52px;font-size:26.67px;color:#000;transform:scaleX(1.0968);">03/22/23</span>
<span class='t' style="left:1520.5px;top:995.52px;font-size:26.67px;color:#000;">6</span>
<span class='t' style="left:1721.25px;top:995.52px;font-size:26.67px;color:#000;font-weight:700;transform:scaleX(0.9782);-webkit-text-stroke:1.12px #000;">40%</span>
<span class='t' style="left:136.11px;top:1047.52px;font-size:26.67px;color:#000;transform:scaleX(0.9934);">1.4</span>
<span class='t' style="left:333.74px;top:1047.52px;font-size:26.67px;color:#000;transform:scaleX(1.0605);">Stakeholders</span>
<span class='t' style="left:880.5px;top:1047.52px;font-size:26.67px;color:#000;transform:scaleX(1.0283);">Allen W</span>
<span class='t' style="left:1115px;top:1047.52px;font-size:26.67px;color:#000;transform:scaleX(1.0968);">03/17/23</span>
<span class='t' style="left:1293px;top:1047.52px;font-size:26.67px;color:#000;transform:scaleX(1.0968);">03/22/23</span>
<span class='t' style="left:1520.5px;top:1047.52px;font-size:26.67px;color:#000;">5</span>
<span class='t' style="left:1721.07px;top:1047.52px;font-size:26.67px;color:#000;font-weight:700;transform:scaleX(0.9665);-webkit-text-stroke:1.12px #000;">70%</span>
<span class='t' style="left:136.09px;top:1099.52px;font-size:26.67px;color:#000;transform:scaleX(1.0049);">1.5</span>
<span class='t' style="left:333.73px;top:1099.52px;font-size:26.67px;color:#000;transform:scaleX(1.0728);">Guidelines</span>
<span class='t' style="left:878.3px;top:1099.52px;font-size:26.67px;color:#000;transform:scaleX(1.0981);">Malik M</span>
<span class='t' style="left:1115px;top:1099.52px;font-size:26.67px;color:#000;transform:scaleX(1.0968);">03/18/23</span>
<span class='t' style="left:1293px;top:1099.52px;font-size:26.67px;color:#000;transform:scaleX(1.0968);">03/22/23</span>
<span class='t' style="left:1520.5px;top:1099.52px;font-size:26.67px;color:#000;">4</span>
<span class='t' style="left:1721.54px;top:1099.52px;font-size:26.67px;color:#000;font-weight:700;transform:scaleX(0.9671);-webkit-text-stroke:1.12px #000;">60%</span>
<span class='t' style="left:136.09px;top:1151.52px;font-size:26.67px;color:#000;transform:scaleX(1.0049);">1.6</span>
<span class='t' style="left:332.62px;top:1151.52px;font-size:26.67px;color:#000;transform:scaleX(1.0919);">Project Initiation</span>
<span class='t' style="left:878.3px;top:1151.52px;font-size:26.67px;color:#000;transform:scaleX(1.0981);">Malik M</span>
<span class='t' style="left:1115px;top:1151.52px;font-size:26.67px;color:#000;transform:scaleX(1.0968);">03/23/23</span>
<span class='t' style="left:1293px;top:1151.52px;font-size:26.67px;color:#000;transform:scaleX(1.0968);">03/23/23</span>
<span class='t' style="left:1721.54px;top:1151.52px;font-size:26.67px;color:#000;font-weight:700;transform:scaleX(0.9671);-webkit-text-stroke:1.12px #000;">50%</span>
<span class='t' style="left:135.32px;top:1203.52px;font-size:26.67px;color:#000;transform:scaleX(1.0769);">2</span>
<span class='t' style="left:332.61px;top:1203.52px;font-size:26.67px;color:#000;transform:scaleX(1.0931);">Project Definition and Planning</span>
<span class='t' style="left:135.47px;top:1255.52px;font-size:26.67px;color:#000;transform:scaleX(0.9310);">2.1</span>
<span class='t' style="left:333.69px;top:1255.52px;font-size:26.67px;color:#000;transform:scaleX(1.1071);">Scope and Goal Setting</span>
<span class='t' style="left:879.48px;top:1255.52px;font-size:26.67px;color:#000;transform:scaleX(1.0195);">Steve L</span>
<span class='t' style="left:1115px;top:1255.52px;font-size:26.67px;color:#000;transform:scaleX(1.0968);">03/24/23</span>
<span class='t' style="left:1293px;top:1255.52px;font-size:26.67px;color:#000;transform:scaleX(1.0968);">03/28/23</span>
<span class='t' style="left:1520.5px;top:1255.52px;font-size:26.67px;color:#000;">4</span>
<span class='t' style="left:1729.32px;top:1255.52px;font-size:26.67px;color:#000;font-weight:700;transform:scaleX(0.9347);-webkit-text-stroke:1.12px #000;">5%</span>
<span class='t' style="left:135.38px;top:1307.52px;font-size:26.67px;color:#000;transform:scaleX(1.0218);">2.2</span>
<span class='t' style="left:332.56px;top:1307.52px;font-size:26.67px;color:#000;transform:scaleX(1.1194);">Budget</span>
<span class='t' style="left:880.5px;top:1307.52px;font-size:26.67px;color:#000;transform:scaleX(1.0283);">Allen W</span>
<span class='t' style="left:1115px;top:1307.52px;font-size:26.67px;color:#000;transform:scaleX(1.0968);">03/29/23</span>
<span class='t' style="left:1293px;top:1307.52px;font-size:26.67px;color:#000;transform:scaleX(1.0968);">04/02/23</span>
<span class='t' style="left:1520.5px;top:1307.52px;font-size:26.67px;color:#000;">4</span>
<span class='t' style="left:1721.69px;top:1307.52px;font-size:26.67px;color:#000;font-weight:700;transform:scaleX(0.9615);-webkit-text-stroke:1.12px #000;">30%</span></div>
<div class='r' style='left:86px;top:90px;width:44px;height:4px;background:#3871e0'></div>
<div class='r' style='left:86px;top:220px;width:44px;height:4px;background:#3871e0'></div>
<div class='r' style='left:86px;top:90px;width:2px;height:134px;background:#3871e0'></div>
<div class='r' style='left:126px;top:90px;width:4px;height:134px;background:#3871e0'></div>
<div style="position:absolute;left:120.2px;top:214.2px;width:15px;height:15px;border-radius:50%;background:#2a56c6;border:2px solid #fff"></div>
</body></html>
